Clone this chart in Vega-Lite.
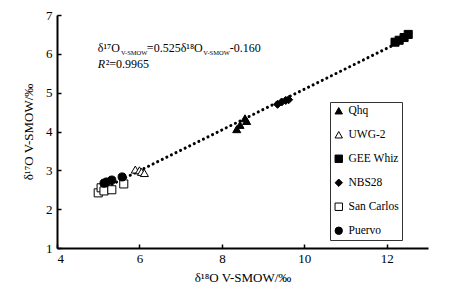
{
  "$schema": "https://vega.github.io/schema/vega-lite/v6.json",
  "width": 371,
  "height": 233,
  "autosize": {"type": "none"},
  "padding": {"left": 57, "top": 15, "right": 34, "bottom": 50},
  "background": "white",
  "config": {
    "view": {"stroke": null},
    "font": "Liberation Serif"
  },
  "datasets": {
    "pts": [
      {"sample": "Qhq", "d18": 8.36, "d17": 4.06},
      {"sample": "Qhq", "d18": 8.44, "d17": 4.17},
      {"sample": "Qhq", "d18": 8.56, "d17": 4.34},
      {"sample": "Qhq", "d18": 8.6, "d17": 4.27},
      {"sample": "UWG-2", "d18": 5.9, "d17": 3.02},
      {"sample": "UWG-2", "d18": 6.0, "d17": 3.0},
      {"sample": "UWG-2", "d18": 6.05, "d17": 2.96},
      {"sample": "UWG-2", "d18": 6.12, "d17": 2.93},
      {"sample": "GEE Whiz", "d18": 12.2, "d17": 6.3},
      {"sample": "GEE Whiz", "d18": 12.3, "d17": 6.35},
      {"sample": "GEE Whiz", "d18": 12.42, "d17": 6.42},
      {"sample": "GEE Whiz", "d18": 12.52, "d17": 6.5},
      {"sample": "NBS28", "d18": 9.35, "d17": 4.7},
      {"sample": "NBS28", "d18": 9.45, "d17": 4.76},
      {"sample": "NBS28", "d18": 9.55, "d17": 4.8},
      {"sample": "NBS28", "d18": 9.62, "d17": 4.82},
      {"sample": "San Carlos", "d18": 5.0, "d17": 2.42},
      {"sample": "San Carlos", "d18": 5.07, "d17": 2.55},
      {"sample": "San Carlos", "d18": 5.14, "d17": 2.47},
      {"sample": "San Carlos", "d18": 5.33, "d17": 2.5},
      {"sample": "San Carlos", "d18": 5.62, "d17": 2.65},
      {"sample": "Puervo", "d18": 5.14, "d17": 2.67},
      {"sample": "Puervo", "d18": 5.2, "d17": 2.7},
      {"sample": "Puervo", "d18": 5.33, "d17": 2.75},
      {"sample": "Puervo", "d18": 5.58, "d17": 2.83}
    ],
    "fit": [
      {"d18": 5.0, "d17": 2.465},
      {"d18": 12.6, "d17": 6.455}
    ],
    "eqMain": [
      {"d18": 4.99, "d17": 6.05, "label": "δ¹⁷O"},
      {"d18": 6.18, "d17": 6.05, "label": "=0.525δ¹⁸O"},
      {"d18": 8.19, "d17": 6.05, "label": "-0.160"},
      {"d18": 5.18, "d17": 5.64, "label": "²=0.9965"}
    ],
    "eqSub": [
      {"d18": 5.55, "d17": 5.97, "label": "V-SMOW"},
      {"d18": 7.55, "d17": 5.97, "label": "V-SMOW"}
    ],
    "eqItal": [
      {"d18": 4.99, "d17": 5.64, "label": "R"}
    ]
  },
  "encoding": {
    "x": {"field": "d18", "type": "quantitative", "scale": {"domain": [4, 13], "nice": false},
      "axis": {"values": [4, 6, 8, 10, 12], "title": "δ¹⁸O V-SMOW/‰", "titlePadding": 6, "grid": false, "domainColor": "black", "domainWidth": 2, "tickColor": "black", "tickWidth": 1.5, "tickSize": -4, "labelPadding": 8, "labelOverlap": false, "labelFontSize": 13, "labelColor": "black", "titleFontSize": 13, "titleFontWeight": "normal", "titleColor": "black"}},
    "y": {"field": "d17", "type": "quantitative", "scale": {"domain": [1, 7], "nice": false},
      "axis": {"values": [1, 2, 3, 4, 5, 6, 7], "title": "δ¹⁷O V-SMOW/‰", "titlePadding": 10, "grid": false, "domainColor": "black", "domainWidth": 2, "tickColor": "black", "tickWidth": 1.5, "tickSize": -4, "labelPadding": 9, "labelOverlap": false, "labelFontSize": 13, "labelColor": "black", "titleFontSize": 13, "titleFontWeight": "normal", "titleColor": "black"}}
  },
  "layer": [
    {
      "data": {"name": "fit"},
      "mark": {"type": "line", "color": "black", "strokeWidth": 3, "strokeDash": [0.1, 5], "strokeCap": "round"}
    },
    {
      "data": {"name": "pts"},
      "mark": {"type": "point", "filled": true, "strokeWidth": 1, "size": 65, "opacity": 1},
      "encoding": {
        "shape": {"field": "sample", "type": "nominal", "scale": {"domain": ["Qhq", "UWG-2", "GEE Whiz", "NBS28", "San Carlos", "Puervo"], "range": ["triangle-up", "triangle-up", "square", "diamond", "square", "circle"]}, "legend": {"title": null, "orient": "none", "legendX": 273, "legendY": 87, "strokeColor": "#333", "fillColor": "white", "padding": 3, "rowPadding": 11, "labelFontSize": 11.5, "labelColor": "black", "symbolStrokeWidth": 1, "symbolSize": 55, "labelOffset": 4}},
        "fill": {"field": "sample", "type": "nominal", "scale": {"domain": ["Qhq", "UWG-2", "GEE Whiz", "NBS28", "San Carlos", "Puervo"], "range": ["black", "white", "black", "black", "white", "black"]}, "legend": {"title": null, "orient": "none", "legendX": 273, "legendY": 87, "strokeColor": "#333", "fillColor": "white", "padding": 3, "rowPadding": 11, "labelFontSize": 11.5, "labelColor": "black", "symbolStrokeWidth": 1, "symbolSize": 55, "labelOffset": 4}},
        "stroke": {"field": "sample", "type": "nominal", "scale": {"domain": ["Qhq", "UWG-2", "GEE Whiz", "NBS28", "San Carlos", "Puervo"], "range": ["black", "black", "black", "black", "black", "black"]}, "legend": {"title": null, "orient": "none", "legendX": 273, "legendY": 87, "strokeColor": "#333", "fillColor": "white", "padding": 3, "rowPadding": 11, "labelFontSize": 11.5, "labelColor": "black", "symbolStrokeWidth": 1, "symbolSize": 55, "labelOffset": 4}}
      }
    },
    {
      "data": {"name": "eqMain"},
      "mark": {"type": "text", "align": "left", "baseline": "alphabetic", "fontSize": 12, "color": "black"},
      "encoding": {"text": {"field": "label"}}
    },
    {
      "data": {"name": "eqSub"},
      "mark": {"type": "text", "align": "left", "baseline": "alphabetic", "fontSize": 6.5, "color": "black"},
      "encoding": {"text": {"field": "label"}}
    },
    {
      "data": {"name": "eqItal"},
      "mark": {"type": "text", "align": "left", "baseline": "alphabetic", "fontSize": 12, "fontStyle": "italic", "color": "black"},
      "encoding": {"text": {"field": "label"}}
    }
  ]
}
